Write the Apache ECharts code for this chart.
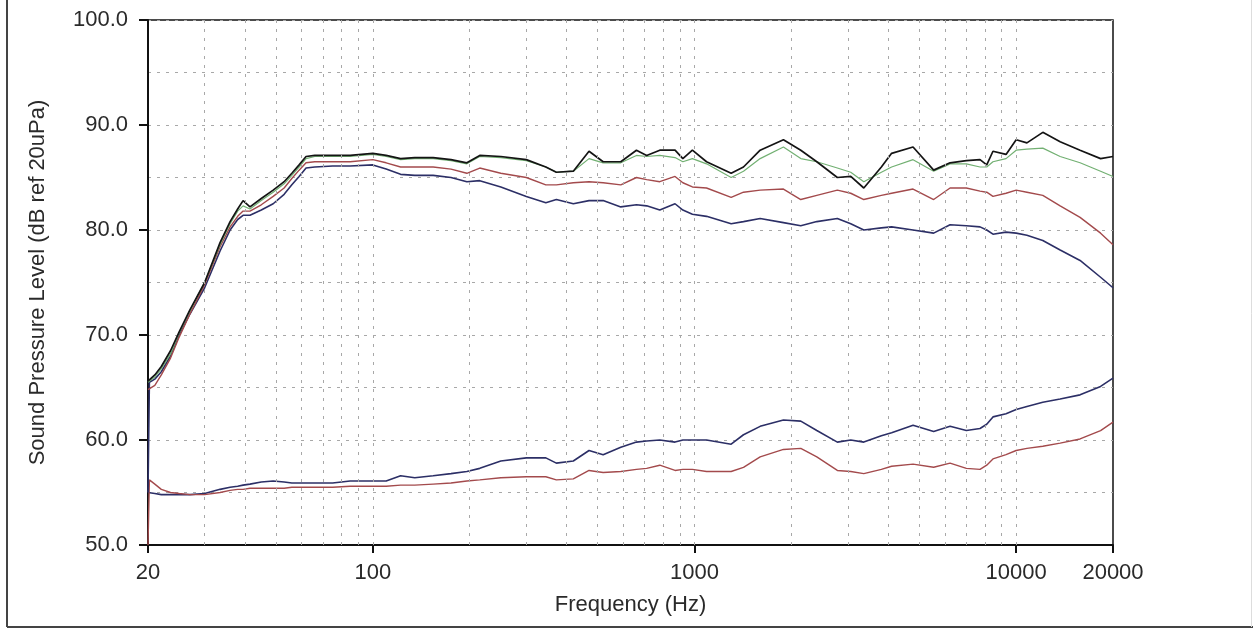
<!DOCTYPE html>
<html>
<head>
<meta charset="utf-8">
<script src="https://cdn.jsdelivr.net/npm/echarts@6/dist/echarts.min.js"></script>
<style>
  html, body { margin: 0; padding: 0; background: #fff; }
  #chart { width: 1253px; height: 630px; }
</style>
</head>
<body>
<div id="chart"></div>
<script>
// frequency points (Hz) shared by every curve
const freqs = [20, 20.2, 21, 22, 23.5, 25, 27, 30, 33.5, 36, 38, 39.5, 41.5, 45, 49, 53, 56, 59, 62, 66, 75, 85,
  100, 110, 122, 135, 154, 175, 196, 215, 250, 300, 345, 372, 420, 470, 520, 590, 660, 710, 780, 870, 920, 985,
  1090, 1300, 1420, 1600, 1890, 2140, 2400, 2780, 3060, 3360, 3810, 4100, 4780, 5540, 6230, 7000, 7720, 8100,
  8470, 9300, 10000, 10800, 12100, 13700, 15800, 18300, 20000]

const blackSpl = [65.6, 65.6, 66.2, 67, 68.5, 70.3, 72.4, 75, 78.8, 80.8, 82, 82.8, 82.2, 83, 83.8, 84.6, 85.4, 86.2, 87, 87.1, 87.1, 87.1,
  87.3, 87.1, 86.8, 86.9, 86.9, 86.7, 86.4, 87.1, 87, 86.7, 86, 85.5, 85.6, 87.5, 86.5, 86.5, 87.6, 87.1, 87.6, 87.6, 86.8, 87.6,
  86.5, 85.4, 86, 87.6, 88.6, 87.6, 86.5, 85, 85.1, 84, 86, 87.3, 87.9, 85.7, 86.4, 86.6, 86.7, 86.2,
  87.5, 87.2, 88.6, 88.3, 89.3, 88.4, 87.6, 86.8, 87]

const greenSpl = [65.5, 65.5, 66, 66.8, 68.2, 70.2, 72.3, 75, 78.6, 80.6, 81.8, 82.3, 82, 82.8, 83.6, 84.4, 85.2, 86, 86.8, 87, 87, 87,
  87.2, 87, 86.7, 86.8, 86.8, 86.6, 86.3, 87, 86.9, 86.6, 86, 85.5, 85.6, 86.8, 86.4, 86.4, 87.1, 87, 87.1, 86.9, 86.5, 86.8,
  86.3, 85, 85.6, 86.8, 87.9, 86.8, 86.5, 85.9, 85.5, 84.6, 85.5, 86, 86.7, 85.6, 86.3, 86.3, 86, 86,
  86.5, 86.8, 87.6, 87.7, 87.8, 87, 86.4, 85.6, 85.1]

const redSpl = [64.8, 64.8, 65.2, 66.2, 67.8, 69.8, 72, 74.8, 78.4, 80.3, 81.3, 81.8, 81.8, 82.4, 83.2, 84, 84.9, 85.7, 86.4, 86.5, 86.5, 86.5,
  86.7, 86.4, 86, 86, 86, 85.8, 85.4, 85.9, 85.4, 85, 84.3, 84.3, 84.5, 84.6, 84.5, 84.3, 85, 84.8, 84.6, 85.1, 84.5, 84.1,
  84, 83.1, 83.6, 83.8, 83.9, 82.9, 83.3, 83.8, 83.5, 82.9, 83.3, 83.5, 83.9, 82.9, 84, 84, 83.7, 83.6,
  83.2, 83.5, 83.8, 83.6, 83.3, 82.3, 81.2, 79.7, 78.6]

const navySpl = [55, 65.5, 65.8, 66.5, 68, 70, 72, 74.5, 78, 80, 81, 81.4, 81.4, 81.9, 82.5, 83.4, 84.3, 85.1, 85.9, 86, 86.1, 86.1,
  86.2, 85.8, 85.3, 85.2, 85.2, 85, 84.6, 84.7, 84.1, 83.2, 82.6, 82.9, 82.5, 82.8, 82.8, 82.2, 82.4, 82.3, 81.9, 82.5, 81.9, 81.5,
  81.3, 80.6, 80.8, 81.1, 80.7, 80.4, 80.8, 81.1, 80.6, 80, 80.2, 80.3, 80, 79.7, 80.5, 80.4, 80.3, 80,
  79.6, 79.8, 79.7, 79.5, 79, 78.1, 77.1, 75.5, 74.5]

const navyLow = [55, 55, 54.9, 54.8, 54.8, 54.8, 54.8, 54.9, 55.3, 55.5, 55.6, 55.7, 55.8, 56, 56.1, 56, 55.9, 55.9, 55.9, 55.9, 55.9, 56.1,
  56.1, 56.1, 56.6, 56.4, 56.6, 56.8, 57, 57.3, 58, 58.3, 58.3, 57.8, 58, 59, 58.6, 59.3, 59.8, 59.9, 60, 59.8, 60, 60,
  60, 59.6, 60.5, 61.3, 61.9, 61.8, 60.9, 59.8, 60, 59.8, 60.4, 60.7, 61.4, 60.8, 61.3, 60.9, 61.1, 61.5,
  62.2, 62.5, 62.9, 63.2, 63.6, 63.9, 64.3, 65.1, 65.9]

const redLow = [50, 56.2, 55.8, 55.3, 55, 54.9, 54.8, 54.8, 55, 55.2, 55.3, 55.3, 55.4, 55.4, 55.4, 55.4, 55.5, 55.5, 55.5, 55.5, 55.5, 55.6,
  55.6, 55.6, 55.7, 55.7, 55.8, 55.9, 56.1, 56.2, 56.4, 56.5, 56.5, 56.2, 56.3, 57.1, 56.9, 57, 57.2, 57.3, 57.6, 57.1, 57.2, 57.2,
  57, 57, 57.4, 58.4, 59.1, 59.2, 58.4, 57.1, 57, 56.8, 57.2, 57.5, 57.7, 57.4, 57.8, 57.3, 57.2, 57.6,
  58.2, 58.6, 59, 59.2, 59.4, 59.7, 60.1, 60.9, 61.7]

// vertical dotted grid positions (Hz)
const gridFreqs = [30, 40, 50, 60, 70, 80, 90, 100, 200, 300, 400, 500, 600, 700, 800, 900,
  1000, 2000, 3000, 4000, 5000, 6000, 7000, 8000, 9000, 10000]

const pair = (vals) => freqs.map((f, i) => [f, vals[i]])

const textColor = '#2a2a2a'
const font = 'Liberation Sans, Arial, sans-serif'

function curve (name, vals, color, width) {
  return {
    name: name,
    type: 'line',
    data: pair(vals),
    showSymbol: false,
    symbol: 'none',
    smooth: false,
    lineStyle: { color: color, width: width },
    itemStyle: { color: color },
    z: 3
  }
}

const chart = echarts.init(document.getElementById('chart'))
chart.setOption({
  animation: false,
  backgroundColor: '#fff',
  grid: {
    left: 148, right: 140, top: 20, bottom: 85,
    show: true, borderColor: '#111', borderWidth: 1.5
  },
  graphic: [
    { type: 'line', shape: { x1: 7, y1: 0, x2: 7, y2: 627 }, style: { stroke: '#444', lineWidth: 2 } },
    { type: 'line', shape: { x1: 7, y1: 627, x2: 1253, y2: 627 }, style: { stroke: '#444', lineWidth: 2 } },
    { type: 'line', shape: { x1: 1251.5, y1: 0, x2: 1251.5, y2: 627 }, style: { stroke: '#ddd', lineWidth: 1 } }
  ],
  xAxis: {
    type: 'log',
    logBase: 10,
    min: 20,
    max: 20000,
    name: 'Frequency (Hz)',
    nameLocation: 'middle',
    nameGap: 49,
    nameTextStyle: { color: textColor, fontSize: 22, fontFamily: font },
    axisLine: { lineStyle: { color: '#111', width: 2 } },
    axisTick: { length: 8, lineStyle: { color: '#111', width: 2 } },
    axisLabel: {
      color: textColor, fontSize: 22, fontFamily: font, margin: 17,
      formatter: (v) => String(Math.round(v))
    },
    splitLine: { show: false }
  },
  yAxis: {
    type: 'value',
    min: 50,
    max: 100,
    interval: 10,
    name: 'Sound Pressure Level (dB ref 20uPa)',
    nameLocation: 'middle',
    nameGap: 99,
    nameTextStyle: { color: textColor, fontSize: 22, fontFamily: font },
    axisLine: { show: true, lineStyle: { color: '#111', width: 2 } },
    axisTick: { show: true, length: 9, lineStyle: { color: '#111', width: 2 } },
    axisLabel: {
      color: textColor, fontSize: 22, fontFamily: font, margin: 20,
      formatter: (v) => v.toFixed(1)
    },
    splitLine: { show: true, lineStyle: { color: '#a8a8a8', type: [3, 6], width: 1 } },
    minorTick: { show: false, splitNumber: 2 },
    minorSplitLine: { show: true, lineStyle: { color: '#a8a8a8', type: [3, 6], width: 1 } }
  },
  series: [
    {
      name: 'grid',
      type: 'line',
      data: [],
      silent: true,
      z: 1,
      markLine: {
        silent: true,
        symbol: 'none',
        animation: false,
        label: { show: false },
        lineStyle: { color: '#a8a8a8', type: [3, 6], width: 1 },
        data: gridFreqs.map((f) => ({ xAxis: f }))
      }
    },
    curve('Navy low', navyLow, '#2c2f66', 1.6),
    curve('Red low', redLow, '#a34a4c', 1.4),
    curve('Navy', navySpl, '#2c2f66', 1.6),
    curve('Red', redSpl, '#a34a4c', 1.4),
    curve('Green', greenSpl, '#72b072', 1.2),
    curve('Black', blackSpl, '#141414', 1.7)
  ]
})
</script>
</body>
</html>
